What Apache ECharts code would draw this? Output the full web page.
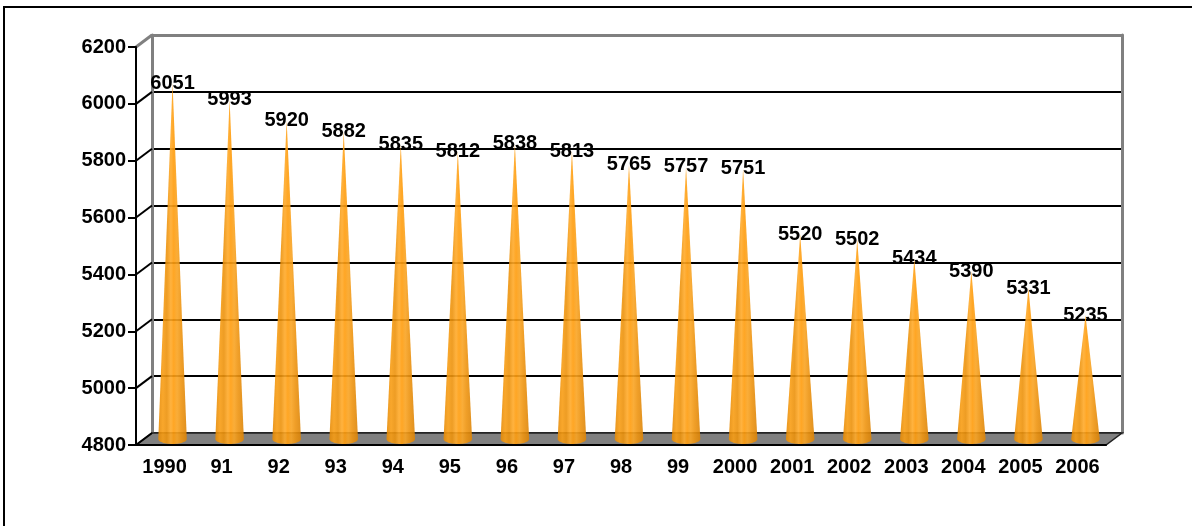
<!DOCTYPE html>
<html>
<head>
<meta charset="utf-8">
<script src="https://cdn.jsdelivr.net/npm/echarts@6/dist/echarts.min.js"></script>
<style>
  html, body { margin: 0; padding: 0; background: #fff; }
  #chart { width: 1192px; height: 526px; }
</style>
</head>
<body>
<div id="chart"></div>
<script>
// Yearly totals, 1990-2006
const years = ['1990', '91', '92', '93', '94', '95', '96', '97', '98', '99',
               '2000', '2001', '2002', '2003', '2004', '2005', '2006'];
const totals = [6051, 5993, 5920, 5882, 5835, 5812, 5838, 5813, 5765, 5757,
                5751, 5520, 5502, 5434, 5390, 5331, 5235];
const yTicks = [4800, 5000, 5200, 5400, 5600, 5800, 6000, 6200];

// Pseudo-3D depth of the plot box (back wall offset from the front axes)
const DX = 16, DY = -12;
const FONT = '"Liberation Sans", Arial, sans-serif';
const GRAY = '#808080';

const yMin = yTicks[0];
const yMax = yTicks[yTicks.length - 1];
const yStep = yTicks[1] - yTicks[0];

const coneFill = new echarts.graphic.LinearGradient(0, 0, 1, 0, [
  { offset: 0.00, color: '#e58a06' },
  { offset: 0.16, color: '#f89d14' },
  { offset: 0.30, color: '#ec920c' },
  { offset: 0.44, color: '#ffaa2a' },
  { offset: 0.54, color: '#ff9c0c' },
  { offset: 0.66, color: '#f9a423' },
  { offset: 0.80, color: '#ee9410' },
  { offset: 1.00, color: '#dc8407' }
]);

// One cone per year, standing at mid-depth, with its value above the tip
function renderCone(params, api) {
  const i = api.value(0);
  const v = api.value(1);
  const tip = api.coord([i, v]);
  const foot = api.coord([i, yMin]);
  const band = api.size([1, 0])[0];
  const cx = tip[0] + DX / 2;
  const ty = tip[1] + DY / 2;
  const by = foot[1] + DY / 2;
  const rw = band * 0.25;
  const rh = 5;
  const pts = [[cx, ty]];
  const n = 28;
  for (let k = 0; k <= n; k++) {
    const a = Math.PI - Math.PI * k / n;
    pts.push([cx + rw * Math.cos(a), by + rh * Math.sin(a)]);
  }
  return {
    type: 'group',
    children: [
      {
        type: 'polygon',
        shape: { points: pts },
        style: { fill: coneFill, opacity: 0.9 }
      },
      {
        type: 'text',
        x: cx,
        y: ty,
        z2: 10,
        style: {
          text: String(v),
          fill: '#000',
          font: 'bold 20px ' + FONT,
          align: 'center',
          verticalAlign: 'middle'
        }
      }
    ]
  };
}

// Floor of the plot box and the diagonal edges joining front ticks to the back wall
function renderFrame(params, api) {
  const v = api.value(1);
  const p = api.coord([0, v]);
  const band = api.size([1, 0])[0];
  const x0 = p[0] - band / 2;
  const children = [];
  if (v === yMin) {
    const x1 = api.coord([years.length - 1, v])[0] + band / 2;
    children.push({
      type: 'polygon',
      shape: { points: [[x0, p[1]], [x1, p[1]], [x1 + DX, p[1] + DY], [x0 + DX, p[1] + DY]] },
      style: { fill: GRAY, stroke: '#222', lineWidth: 1.5 }
    });
  }
  const top = v === yMax;
  children.push({
    type: 'line',
    shape: { x1: x0, y1: p[1], x2: x0 + DX, y2: p[1] + DY },
    style: { stroke: top ? GRAY : '#000', lineWidth: top ? 3 : 2 }
  });
  return { type: 'group', children: children };
}

const labelStyle = { color: '#000', fontWeight: 'bold', fontSize: 20, fontFamily: FONT };

const chart = echarts.init(document.getElementById('chart'), null, { renderer: 'canvas' });
chart.setOption({
  backgroundColor: '#fff',
  animation: false,
  graphic: [{
    type: 'rect',
    silent: true,
    z: -10,
    shape: { x: 4, y: 7, width: 1300, height: 700 },
    style: { fill: 'none', stroke: '#000', lineWidth: 2 }
  }],
  grid: [
    { left: 136, right: 86, top: 47, bottom: 81 },
    { left: 152, right: 70, top: 35, bottom: 93 }
  ],
  xAxis: [
    {
      gridIndex: 0,
      type: 'category',
      data: years,
      boundaryGap: true,
      z: 10,
      axisLine: { lineStyle: { color: '#000', width: 2 } },
      axisTick: { length: 7, lineStyle: { color: '#000', width: 2 } },
      axisLabel: Object.assign({ interval: 0, margin: 12 }, labelStyle),
      splitLine: { show: false }
    },
    {
      gridIndex: 1,
      type: 'category',
      data: years,
      position: 'top',
      axisLine: { lineStyle: { color: GRAY, width: 3 } },
      axisTick: { show: false },
      axisLabel: { show: false },
      splitLine: { show: false }
    }
  ],
  yAxis: [
    {
      gridIndex: 0,
      type: 'value',
      min: yMin, max: yMax, interval: yStep,
      z: 10,
      axisLine: { show: true, lineStyle: { color: '#000', width: 2 } },
      axisTick: { show: true, length: 8, lineStyle: { color: '#000', width: 2 } },
      axisLabel: Object.assign({ margin: 10, formatter: function (v) { return String(v); } }, labelStyle),
      splitLine: { show: false }
    },
    {
      gridIndex: 1,
      type: 'value',
      min: yMin, max: yMax, interval: yStep,
      axisLine: { show: true, lineStyle: { color: GRAY, width: 3 } },
      axisTick: { show: false },
      axisLabel: { show: false },
      splitLine: {
        show: true,
        lineStyle: { width: 2, color: ['#333', '#000', '#000', '#000', '#000', '#000', '#000', GRAY] }
      }
    },
    {
      gridIndex: 1,
      type: 'value',
      position: 'right',
      min: yMin, max: yMax, interval: yStep,
      axisLine: { show: true, lineStyle: { color: GRAY, width: 3 } },
      axisTick: { show: false },
      axisLabel: { show: false },
      splitLine: { show: false }
    }
  ],
  series: [
    {
      type: 'custom',
      xAxisIndex: 0, yAxisIndex: 0,
      z: 1,
      silent: true,
      renderItem: renderFrame,
      data: yTicks.map(function (t) { return [0, t]; })
    },
    {
      type: 'custom',
      xAxisIndex: 0, yAxisIndex: 0,
      z: 2,
      renderItem: renderCone,
      data: totals.map(function (v, i) { return [i, v]; })
    }
  ]
});
</script>
</body>
</html>
